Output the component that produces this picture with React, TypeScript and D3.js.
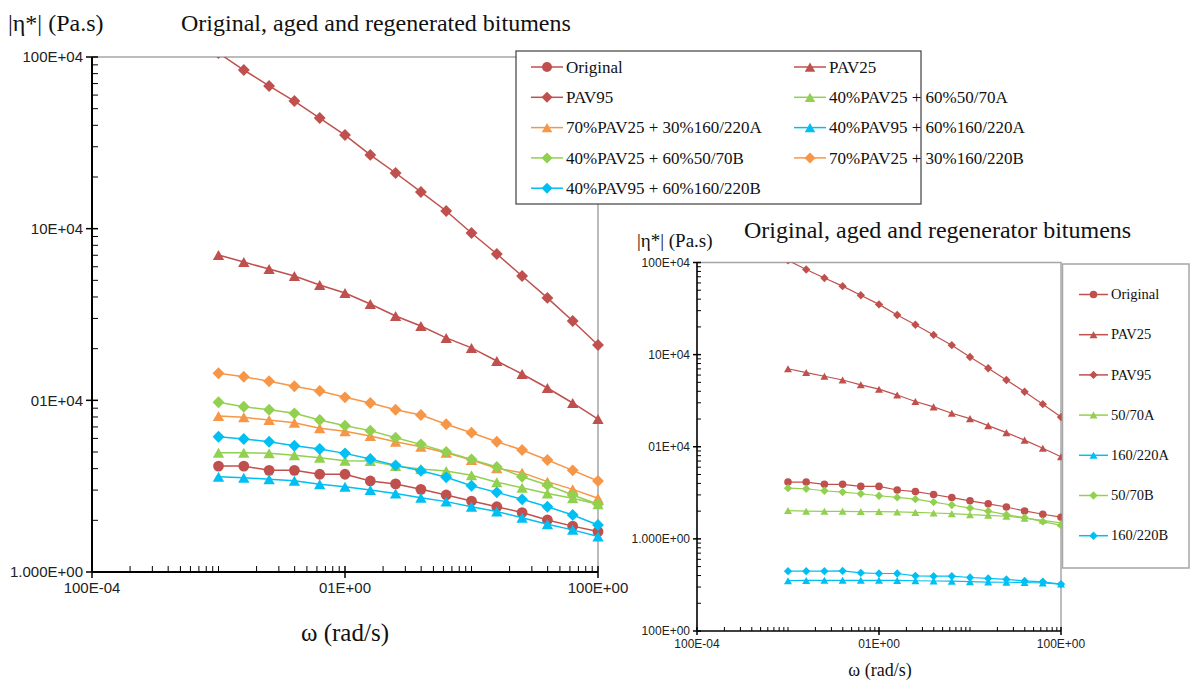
import React from "react";
import * as d3 from "d3";

// Angular frequency (rad/s), five points per decade
const omega = [0.1, 0.1585, 0.2512, 0.3981, 0.631, 1, 1.585, 2.512, 3.981, 6.31, 10, 15.85, 25.12, 39.81, 63.1, 100];

// Complex viscosity |η*| (Pa.s) of original, aged and regenerated bitumens
const original = [4140, 4140, 3910, 3910, 3710, 3710, 3390, 3260, 3030, 2810, 2590, 2400, 2220, 2010, 1850, 1720];
const pav25 = [70200, 63900, 58200, 53000, 47000, 42200, 36400, 31000, 27100, 23100, 20200, 16950, 14230, 11800, 9650, 7780];
const pav95 = [1055000, 840000, 678000, 554000, 441000, 351000, 269000, 211000, 163600, 126700, 94300, 71200, 53000, 39500, 29000, 21000];
const pav25Mix5070A = [4950, 4950, 4910, 4780, 4630, 4450, 4430, 4140, 3980, 3880, 3660, 3330, 3100, 2870, 2690, 2480];
const pav25Mix160220A = [8100, 7960, 7680, 7410, 6870, 6600, 6200, 5740, 5370, 4950, 4490, 4020, 3790, 3360, 3030, 2690];
const pav95Mix160220A = [3590, 3540, 3470, 3400, 3240, 3140, 3000, 2870, 2710, 2570, 2400, 2250, 2070, 1900, 1760, 1610];
const pav25Mix5070B = [9740, 9180, 8820, 8400, 7680, 7120, 6660, 6060, 5540, 5000, 4530, 4090, 3590, 3210, 2810, 2480];
const pav25Mix160220B = [14370, 13730, 12910, 12070, 11330, 10410, 9650, 8820, 8210, 7250, 6480, 5740, 5140, 4490, 3910, 3390];
const pav95Mix160220B = [6140, 5950, 5740, 5440, 5210, 4910, 4550, 4180, 3890, 3560, 3180, 2910, 2650, 2400, 2150, 1880];

// Regenerator (soft) bitumens
const binder5070A = [2030, 2000, 1990, 1990, 1980, 1980, 1960, 1940, 1910, 1880, 1830, 1800, 1760, 1680, 1590, 1490];
const binder160220A = [352, 354, 355, 355, 355, 355, 354, 351, 349, 347, 343, 340, 338, 336, 332, 323];
const binder5070B = [3555, 3500, 3330, 3220, 3090, 2940, 2820, 2700, 2510, 2330, 2160, 2000, 1830, 1700, 1540, 1400];
const binder160220B = [446, 446, 446, 449, 428, 421, 421, 397, 394, 394, 381, 372, 363, 350, 342, 323];

// Axis tick values and their printed labels
const xTickValues = [0.01, 1, 100];
const xTickLabels = ["100E-04", "01E+00", "100E+00"];
const leftYTickValues = [1e3, 1e4, 1e5, 1e6];
const leftYTickLabels = ["1.000E+00", "01E+04", "10E+04", "100E+04"];
const rightYTickValues = [1e2, 1e3, 1e4, 1e5, 1e6];
const rightYTickLabels = ["100E+00", "1.000E+00", "01E+04", "10E+04", "100E+04"];

const RED = "#C0504D";
const GREEN = "#92D050";
const ORANGE = "#F79646";
const CYAN = "#00BFF3";

type Shape = "circle" | "triangle" | "diamond";
interface Series { name: string; values: number[]; color: string; shape: Shape; }

const leftSeries: Series[] = [
  { name: "Original", values: original, color: RED, shape: "circle" },
  { name: "PAV25", values: pav25, color: RED, shape: "triangle" },
  { name: "PAV95", values: pav95, color: RED, shape: "diamond" },
  { name: "40%PAV25 + 60%50/70A", values: pav25Mix5070A, color: GREEN, shape: "triangle" },
  { name: "70%PAV25 + 30%160/220A", values: pav25Mix160220A, color: ORANGE, shape: "triangle" },
  { name: "40%PAV95 + 60%160/220A", values: pav95Mix160220A, color: CYAN, shape: "triangle" },
  { name: "40%PAV25 + 60%50/70B", values: pav25Mix5070B, color: GREEN, shape: "diamond" },
  { name: "70%PAV25 + 30%160/220B", values: pav25Mix160220B, color: ORANGE, shape: "diamond" },
  { name: "40%PAV95 + 60%160/220B", values: pav95Mix160220B, color: CYAN, shape: "diamond" },
];

const rightSeries: Series[] = [
  { name: "Original", values: original, color: RED, shape: "circle" },
  { name: "PAV25", values: pav25, color: RED, shape: "triangle" },
  { name: "PAV95", values: pav95, color: RED, shape: "diamond" },
  { name: "50/70A", values: binder5070A, color: GREEN, shape: "triangle" },
  { name: "160/220A", values: binder160220A, color: CYAN, shape: "triangle" },
  { name: "50/70B", values: binder5070B, color: GREEN, shape: "diamond" },
  { name: "160/220B", values: binder160220B, color: CYAN, shape: "diamond" },
];

const SERIF = "'Liberation Serif', 'Times New Roman', serif";
const SANS = "'Liberation Sans', Arial, sans-serif";

function markerPath(shape: Shape, s: number): string {
  if (shape === "circle") return d3.symbol(d3.symbolCircle, Math.PI * s * s)() as string;
  if (shape === "triangle") {
    const w = s * 2.1, h = s * 1.85;
    return `M0,${-h / 2}L${w / 2},${h / 2}L${-w / 2},${h / 2}Z`;
  }
  const r = s * 1.1;
  return `M0,${-r}L${r},0L0,${r}L${-r},0Z`;
}

// Minor tick values: k × 10^n for every decade of the domain
function logMinorTicks(lo: number, hi: number): number[] {
  const out: number[] = [];
  for (let e = Math.round(Math.log10(lo)); e < Math.round(Math.log10(hi)); e++) {
    for (let k = 1; k <= 9; k++) out.push(k * Math.pow(10, e));
  }
  out.push(hi);
  return out;
}

interface PanelProps {
  id: string;
  left: number; right: number; top: number; bottom: number;
  yDomain: [number, number];
  yTickValues: number[]; yTickLabels: string[];
  series: Series[];
  markerSize: number;
  lineWidth: number;
  tickFont: number;
  axisWidth: number;
  minorLen: number;
  majorLen: number;
}

function Panel(p: PanelProps) {
  const x = d3.scaleLog().domain([0.01, 100]).range([p.left, p.right]);
  const y = d3.scaleLog().domain(p.yDomain).range([p.bottom, p.top]);
  const line = d3.line<number>().x((_, i) => x(omega[i])).y((v) => y(v));
  const xMinor = logMinorTicks(0.01, 100).filter((v) => !xTickValues.some((t) => Math.abs(t - v) / t < 1e-9));
  const yMinor = logMinorTicks(p.yDomain[0], p.yDomain[1]).filter((v) => !p.yTickValues.some((t) => Math.abs(t - v) / t < 1e-9));
  return (
    <g>
      <defs>
        <clipPath id={`clip-${p.id}`}>
          <rect x={p.left - 8} y={p.top} width={p.right - p.left + 16} height={p.bottom - p.top + 8} />
        </clipPath>
      </defs>
      {/* plot-area frame (top and right) */}
      <path d={`M${p.left},${p.top}H${p.right}V${p.bottom}`} fill="none" stroke="#A6A6A6" strokeWidth={1.5} />
      <g clipPath={`url(#clip-${p.id})`}>
        {p.series.map((s) => (
          <g key={s.name}>
            <path d={line(s.values) as string} fill="none" stroke={s.color} strokeWidth={p.lineWidth} />
            {s.values.map((v, i) => (
              <path key={i} d={markerPath(s.shape, p.markerSize)} transform={`translate(${x(omega[i])},${y(v)})`} fill={s.color} />
            ))}
          </g>
        ))}
      </g>
      {/* axes */}
      <line x1={p.left} x2={p.left} y1={p.top} y2={p.bottom} stroke="#000" strokeWidth={p.axisWidth} />
      <line x1={p.left} x2={p.right} y1={p.bottom} y2={p.bottom} stroke="#000" strokeWidth={p.axisWidth} />
      {yMinor.map((v) => (
        <line key={`ym${v}`} x1={p.left} x2={p.left + p.minorLen} y1={y(v)} y2={y(v)} stroke="#000" strokeWidth={1} />
      ))}
      {p.yTickValues.map((v, i) => (
        <g key={`yt${v}`}>
          <line x1={p.left - p.majorLen} x2={p.left + p.majorLen} y1={y(v)} y2={y(v)} stroke="#000" strokeWidth={1.5} />
          <text x={p.left - p.majorLen - 3} y={y(v)} dy="0.35em" textAnchor="end" fontFamily={SANS} fontSize={p.tickFont} fill="#222">
            {p.yTickLabels[i]}
          </text>
        </g>
      ))}
      {xMinor.map((v) => (
        <line key={`xm${v}`} x1={x(v)} x2={x(v)} y1={p.bottom} y2={p.bottom - p.minorLen} stroke="#000" strokeWidth={1} />
      ))}
      {xTickValues.map((v, i) => (
        <g key={`xt${v}`}>
          <line x1={x(v)} x2={x(v)} y1={p.bottom - p.majorLen} y2={p.bottom + p.majorLen} stroke="#000" strokeWidth={1.5} />
          <text x={x(v)} y={p.bottom + p.majorLen + 3} dy="0.8em" textAnchor="middle" fontFamily={SANS} fontSize={p.tickFont} fill="#222">
            {xTickLabels[i]}
          </text>
        </g>
      ))}
    </g>
  );
}

function LegendItem({ s, x, y, lineLen, markerSize, fontSize }: { s: Series; x: number; y: number; lineLen: number; markerSize: number; fontSize: number }) {
  return (
    <g>
      <line x1={x} x2={x + lineLen} y1={y} y2={y} stroke={s.color} strokeWidth={1.5} />
      <path d={markerPath(s.shape, markerSize)} transform={`translate(${x + lineLen / 2},${y})`} fill={s.color} />
      <text x={x + lineLen + 3} y={y} dy="0.33em" fontFamily={SERIF} fontSize={fontSize} fill="#111">
        {s.name}
      </text>
    </g>
  );
}

export default function App() {
  const L = { left: 92, right: 598, top: 57, bottom: 572 };
  const R = { left: 697, right: 1061, top: 262.5, bottom: 631 };
  return (
    <svg width={1192} height={682} style={{ position: "absolute", left: 0, top: 0, background: "#fff" }}>
      <rect width={1192} height={682} fill="#fff" />

      {/* Left panel: original, aged and regenerated bitumens */}
      <text x={8} y={31} fontFamily={SERIF} fontSize={24} fill="#111">|η*| (Pa.s)</text>
      <text x={181} y={31} fontFamily={SERIF} fontSize={24} fill="#111">Original, aged and regenerated bitumens</text>
      <Panel id="left" {...L} yDomain={[1e3, 1e6]} yTickValues={leftYTickValues} yTickLabels={leftYTickLabels}
        series={leftSeries} markerSize={5.4} lineWidth={1.5} tickFont={15} axisWidth={2} minorLen={6} majorLen={6} />
      <text x={345} y={641} textAnchor="middle" fontFamily={SERIF} fontSize={25} fill="#111">ω (rad/s)</text>
      <rect x={516} y={51} width={405} height={153} fill="#fff" stroke="#404040" strokeWidth={1.2} />
      {leftSeries.map((s, i) => (
        <LegendItem key={s.name} s={s} x={i % 2 === 0 ? 531 : 794} y={67 + Math.floor(i / 2) * 30.3}
          lineLen={32} markerSize={5} fontSize={17} />
      ))}

      {/* Right panel: original, aged and regenerator bitumens */}
      <text x={637} y={247} fontFamily={SERIF} fontSize={19} fill="#111">|η*| (Pa.s)</text>
      <text x={744} y={238} fontFamily={SERIF} fontSize={24} fill="#111">Original, aged and regenerator bitumens</text>
      <Panel id="right" {...R} yDomain={[1e2, 1e6]} yTickValues={rightYTickValues} yTickLabels={rightYTickLabels}
        series={rightSeries} markerSize={3.8} lineWidth={1.2} tickFont={12} axisWidth={1.6} minorLen={4} majorLen={4} />
      <text x={880} y={676} textAnchor="middle" fontFamily={SERIF} fontSize={18} fill="#111">ω (rad/s)</text>
      <rect x={1062.5} y={264} width={126.5} height={304} fill="#fff" stroke="#A6A6A6" strokeWidth={1.5} />
      {rightSeries.map((s, i) => (
        <LegendItem key={s.name} s={s} x={1079} y={294.5 + i * 40.2} lineLen={29} markerSize={3.8} fontSize={14.5} />
      ))}
    </svg>
  );
}
